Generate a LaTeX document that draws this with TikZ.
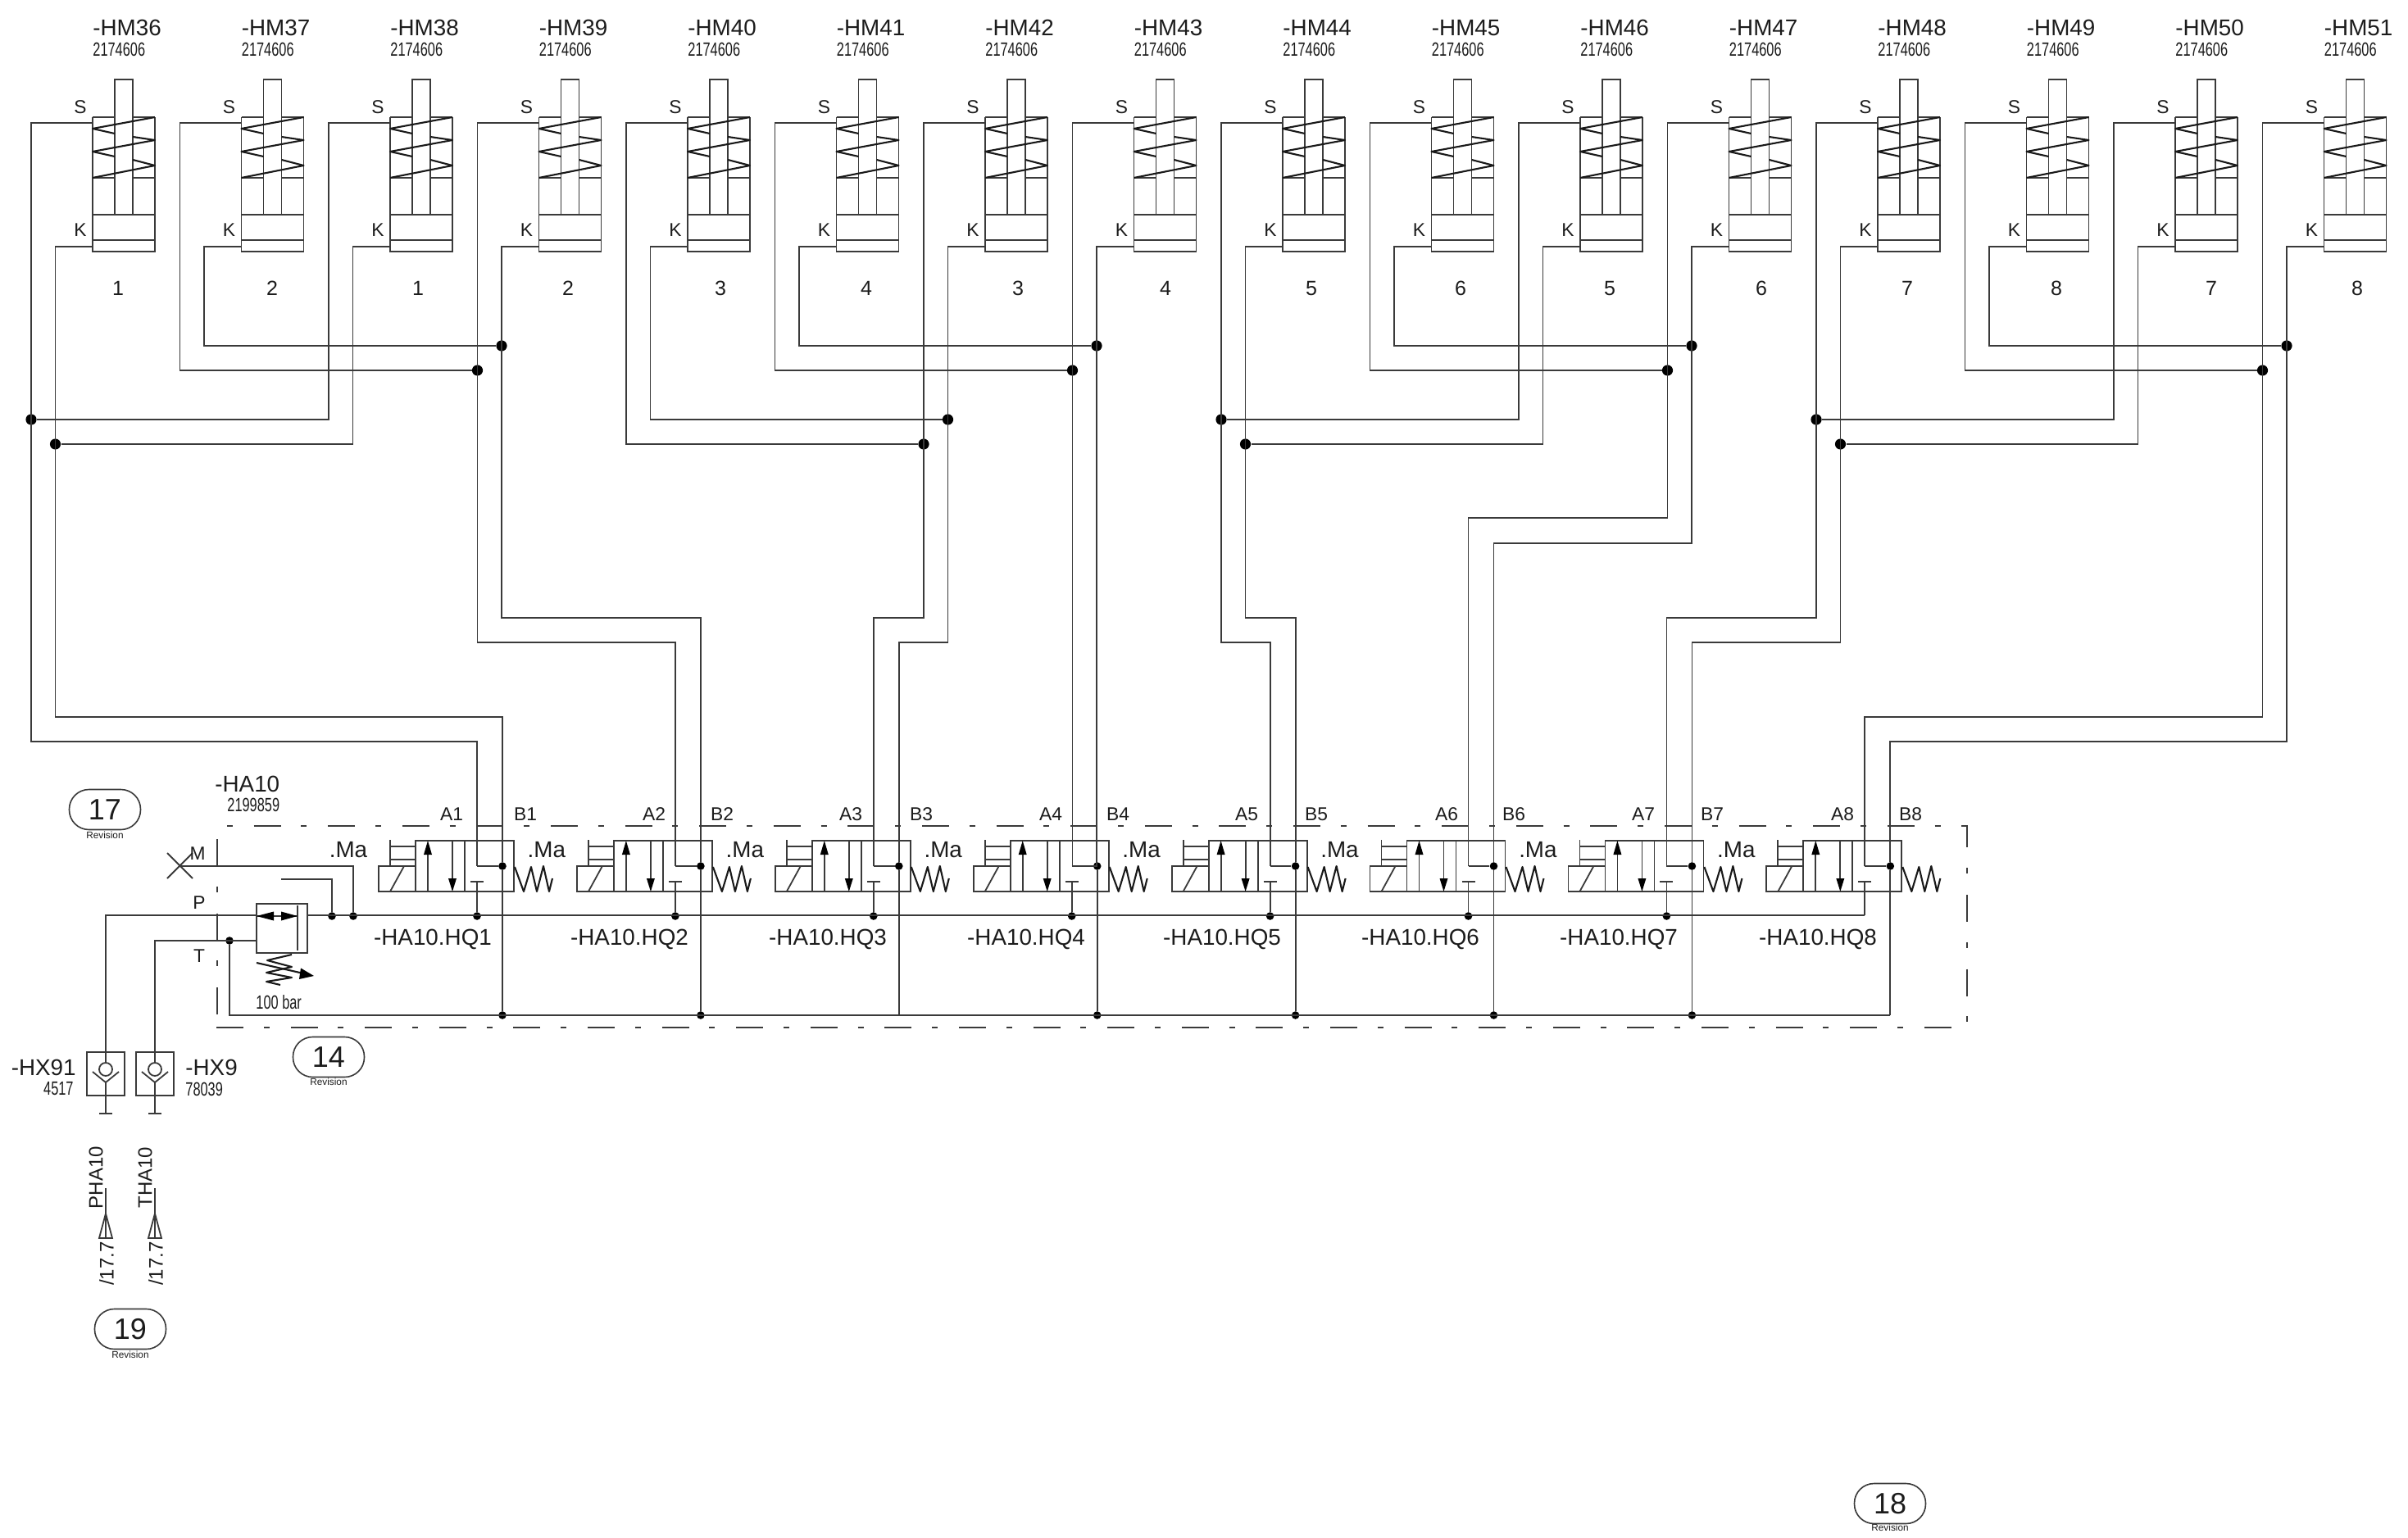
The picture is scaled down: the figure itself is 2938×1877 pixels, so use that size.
\documentclass[tikz,border=0pt]{standalone}
\usepackage{fontspec}
\setmainfont{Liberation Sans}
\newfontfamily\condfont[FakeStretch=0.7]{Liberation Sans}
\definecolor{ln}{HTML}{3A3A3A}
\definecolor{tx}{HTML}{1C1C1C}
\tikzset{
  pipe/.style={draw=ln,line width=0.9pt,line join=miter},
  sym/.style={draw=ln,line width=0.9pt},
  coil/.style={draw=black!90,line width=1.05pt,line join=round},
  head/.style={fill=black,draw=none},
  jdot/.style={circle,fill=black,inner sep=0pt,minimum size=6.6pt},
  vdot/.style={circle,fill=black,inner sep=0pt,minimum size=4.8pt},
  txt/.style={inner sep=0pt,text=tx},
  big/.style={txt,font=\fontsize{13.9}{16}\selectfont},
  mid/.style={txt,font=\fontsize{11.4}{13}\selectfont},
  vert/.style={txt,font=\fontsize{12}{14}\selectfont},
  num/.style={txt,font=\condfont\fontsize{11.7}{13}\selectfont},
  rev/.style={txt,font=\fontsize{5.9}{7}\selectfont},
  oval/.style={draw=ln,line width=0.8pt,inner sep=0pt,minimum width=43.5pt,minimum height=24.5pt,rounded corners=12pt,text=tx,font=\fontsize{18}{20}\selectfont},
  dashd/.style={draw=ln,line width=0.9pt,dash pattern=on 16.5pt off 12.4pt on 3.5pt off 12.9pt}
}
\newcommand{\runS}[3]{\draw[pipe] (SP#1) -- (SX#1) |- (#3 |- #2) -- (#3);}
\newcommand{\runK}[3]{\draw[pipe] (KP#1) -- (KX#1) |- (#3 |- #2) -- (#3);}
\newcommand{\tieS}[2]{\draw[pipe] (SP#1) -- (SX#1) |- (#2);}
\newcommand{\tieK}[2]{\draw[pipe] (KP#1) -- (KX#1) |- (#2);}
\begin{document}
\begin{tikzpicture}[x=0.5pt,y=-0.5pt]
\useasboundingbox (0,0) rectangle (2938,1877);
\fill[white] (0,0) rectangle (2938,1877);

% levels
\foreach \l in {422,452,512,542,632,663,754,784,875,905,1239}{\coordinate (lv\l) at (0,\l);}

% cylinders
\foreach \n [count=\c from 0] in {36,...,51}{
  \coordinate (SP\n) at ({113+181.5*\c},150);
  \coordinate (KP\n) at ({113+181.5*\c},301);
  \coordinate (SX\n) at ({38+181.5*\c},150);
  \coordinate (KX\n) at ({67.5+181.5*\c},301);
  \node[big,anchor=west] (hm\n) at ({113+181.5*\c},34) {-HM\n};
  \node[num,anchor=west] (pn\n) at ({113+181.5*\c},60) {2174606};
  \node[mid] (sl\n) at ({98+181.5*\c},131) {S};
  \node[mid] (kl\n) at ({98+181.5*\c},281) {K};
  \begin{scope}[xshift={\c*90.75pt}]
    \draw[sym] (113,143) -- (140,143) (162,143) -- (189,143);
    \draw[sym] (113,143) -- (113,307) -- (189,307) -- (189,143);
    \draw[sym] (113,217) -- (140,217) (162,217) -- (189,217);
    \draw[sym] (113,262) -- (189,262) (113,293) -- (189,293);
    \draw[sym] (140,262) -- (140,97) -- (162,97) -- (162,262);
    \draw[coil] (189,143) -- (113,157) -- (140,163);
    \draw[coil] (162,167) -- (189,171) -- (113,185) -- (140,191);
    \draw[coil] (162,195) -- (189,202) -- (113,217);
  \end{scope}
}
\foreach \x/\t [count=\k] in {144/1,332/2,510/1,693/2,879/3,1057/4,1242/3,1422/4,1600/5,1782/6,1964/5,2149/6,2327/7,2509/8,2698/7,2876/8}{
  \node[txt,font=\fontsize{12.5}{14}\selectfont] (cn\k) at (\x,352) {\t};
}

% valves
\foreach \v [count=\c from 0] in {1,...,8}{
  \node[vdot] (B\v) at ({613+241.9*\c},1057) {};
  \coordinate (A\v) at ({582+241.9*\c},1057);
  \coordinate (Bar\v) at ({582+241.9*\c},1076);
  \ifnum\v<8
    \node[vdot] (Tie\v) at ({582+241.9*\c},1118) {};
  \else
    \coordinate (Tie\v) at ({582+241.9*\c},1117);
  \fi
  \draw[pipe] (A\v) -- (B\v);
  \draw[pipe] (Tie\v) -- (Bar\v);
  \begin{scope}[xshift={\c*120.95pt}]
    \draw[sym] (507,1026) rectangle (627,1088);
    \draw[sym] (567,1026) -- (567,1088);
    \draw[sym] (462,1057) rectangle (507,1088);
    \draw[sym] (476,1088) -- (493,1057);
    \draw[sym] (476,1025) -- (476,1057);
    \draw[sym] (476,1033) -- (507,1033) (476,1049) -- (507,1049);
    \draw[sym] (522,1088) -- (522,1040);
    \fill[head] (522,1026) -- (517,1043) -- (527,1043) -- cycle;
    \draw[sym] (552,1026) -- (552,1075);
    \fill[head] (552,1088) -- (547,1072) -- (557,1072) -- cycle;
    \draw[sym] (574,1076) -- (590,1076);
    \draw[coil] (628,1058) -- (639,1088) -- (648,1058) -- (655,1088) -- (663,1057) -- (670,1088) -- (674,1072);
  \end{scope}
}
\foreach \x/\t in {551/A1,798/A2,1038/A3,1282/A4,1521/A5,1765/A6,2005/A7,2248/A8,641/B1,881/B2,1124/B3,1364/B4,1606/B5,1847/B6,2089/B7,2331/B8}{
  \node[mid] (pl\t) at (\x,994) {\t};
}
\foreach \c in {0,...,7}{\node[big] (ma\c) at ({425+241.9*\c},1037) {.Ma};}
\foreach \x [count=\q] in {528,768,1010,1252,1491,1733,1975,2218}{
  \node[big] (hq\q) at (\x,1146) {-HA10.HQ\q};
}

% junctions
\foreach \a/\l in {36/512,44/512,48/512,39/452,43/452,47/452,51/452,42/542}{\node[jdot] (JS\a) at (SX\a |- lv\l) {};}
\foreach \a/\l in {36/542,44/542,48/542,39/422,43/422,47/422,51/422,42/512}{\node[jdot] (JK\a) at (KX\a |- lv\l) {};}

% group 1
\runS{36}{lv905}{A1} \runK{36}{lv875}{B1}
\tieS{38}{JS36} \tieK{38}{JK36}
\tieS{37}{JS39} \tieK{37}{JK39}
\runS{39}{lv784}{A2} \runK{39}{lv754}{B2}
% group 2
\tieS{40}{JS42} \tieK{40}{JK42}
\tieS{41}{JS43} \tieK{41}{JK43}
\runS{42}{lv754}{A3} \runK{42}{lv784}{B3}
\draw[pipe] (SP43) -- (SX43) |- (A4);
\draw[pipe] (KP43) -- (KX43) |- (B4);
% group 3
\runS{44}{lv784}{A5} \runK{44}{lv754}{B5}
\tieS{46}{JS44} \tieK{46}{JK44}
\tieS{45}{JS47} \tieK{45}{JK47}
\runS{47}{lv632}{A6} \runK{47}{lv663}{B6}
% group 4
\runS{48}{lv754}{A7} \runK{48}{lv784}{B7}
\tieS{50}{JS48} \tieK{50}{JK48}
\tieS{49}{JS51} \tieK{49}{JK51}
\runS{51}{lv875}{A8} \runK{51}{lv905}{B8}

% tank line
\node[vdot] (Tj) at (280,1148) {};
\foreach \v in {1,2,4,5,6,7}{\node[vdot] (Bot\v) at (B\v |- lv1239) {};}
\foreach \v in {3,8}{\coordinate (Bot\v) at (B\v |- lv1239);}
\foreach \v in {1,...,8}{\draw[pipe] (B\v) -- (Bot\v);}
\draw[pipe] (Tj) |- (Bot8);

% relief valve
\node[draw=ln,line width=0.85pt,inner sep=0pt,minimum width=31pt,minimum height=30pt] (relief) at (344,1133) {};
\coordinate (rl) at (relief.west |- 0,1117);
\coordinate (rr) at (relief.east |- 0,1117);
\node[vdot] (pil) at (405,1118) {};
\node[vdot] (mj) at (431,1118) {};
\draw[sym] (363,1105) -- (363,1160);
\draw[sym] (313,1118) -- (363,1118);
\fill[head] (313,1118) -- (334,1112.5) -- (334,1123.5) -- cycle;
\fill[head] (363,1118) -- (343,1112.5) -- (343,1123.5) -- cycle;
\draw[coil] (356,1165) -- (326,1172) -- (356,1180) -- (325,1187) -- (356,1193) -- (325,1198) -- (342,1202);
\draw[coil] (313,1175) -- (368,1187.5);
\fill[head] (383,1191) -- (365,1195) -- (367,1181.5) -- cycle;
\node[num,anchor=west] (bar) at (312,1223) {100 bar};

% check valves
\node[draw=ln,line width=0.85pt,inner sep=0pt,minimum width=23pt,minimum height=26.5pt] (hx91) at (129,1310.5) {};
\node[draw=ln,line width=0.85pt,inner sep=0pt,minimum width=23pt,minimum height=26.5pt] (hx9) at (189,1310.5) {};
\foreach \x in {129,189}{
  \begin{scope}[xshift={(\x-129)*0.5pt}]
    \draw[sym] (129,1305) circle (4pt);
    \draw[sym] (113,1308) -- (129,1321) -- (145,1308);
    \draw[sym] (129,1284) -- (129,1297);
    \draw[sym] (129,1321) -- (129,1359);
    \draw[sym] (121,1359) -- (137,1359);
    \draw[sym] (129,1450) -- (129,1511);
    \draw[sym] (129,1481) -- (121,1511) -- (137,1511) -- cycle;
  \end{scope}
}

% P, T, M lines
\draw[pipe] (hx91.north) |- (rl);
\draw[pipe] (rr) -- (Tie8);
\draw[pipe] (hx9.north) |- (relief.west |- Tj);
\coordinate (mx) at (219,1057);
\draw[pipe] (mx) -| (mj);
\coordinate (pf) at (343,1073);
\draw[pipe] (pf) -| (pil);
\draw[sym] (204,1041) -- (235,1072) (204,1072) -- (235,1041);

% dash-dot frame
\draw[dashd,dash phase=29pt] (277,1008) -- (2400,1008) -- (2400,1248);
\draw[dashd] (265,1024) -- (265,1240);
\draw[dashd] (264,1254) -- (2384,1254);

% labels
\node[big,anchor=west] (ha10) at (262,957) {-HA10};
\node[num,anchor=west] (ha10n) at (277,982) {2199859};
\node[mid] (m) at (241,1042) {M};
\node[mid] (p) at (243,1102) {P};
\node[mid] (t) at (243,1167) {T};
\node[big,anchor=east] (x91) at (93,1303) {-HX91};
\node[num,anchor=east] (x91n) at (90,1329) {4517};
\node[big,anchor=west] (x9) at (226,1303) {-HX9};
\node[num,anchor=west] (x9n) at (226,1329) {78039};
\node[vert,rotate=90] (pha) at (117,1437) {PHA10};
\node[vert,rotate=90] (tha) at (177,1437) {THA10};
\node[vert,rotate=90] (r1) at (130,1542) {/17.7};
\node[vert,rotate=90] (r2) at (190,1542) {/17.7};

% revision marks
\foreach \t/\x/\y/\ry in {17/128/988/1019,14/401/1290/1320,19/159/1622/1653,18/2306/1835/1864}{
  \node[oval] (ov\t) at (\x,\y) {\t};
  \node[rev] (rv\t) at (\x,\ry) {Revision};
}
\end{tikzpicture}
\end{document}
